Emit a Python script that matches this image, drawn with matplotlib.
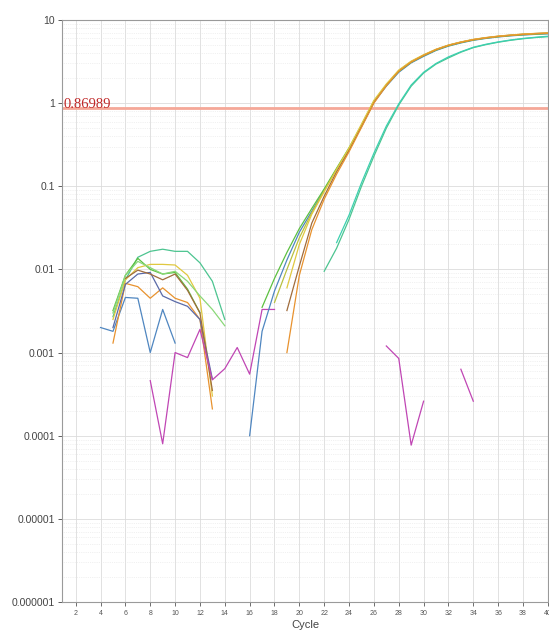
import matplotlib

matplotlib.use("Agg")
import matplotlib.pyplot as plt
import numpy as np
from matplotlib.ticker import FixedLocator, LogLocator, NullFormatter

plt.rcParams["font.family"] = ["Liberation Sans", "DejaVu Sans"]

# ---- data ----
threshold = 0.86989

# amplification curves: first cycle, then one value per cycle up to 40
amp_blue_start = 16
amp_blue = [1.0e-4, 0.0018, 0.0055, 0.013, 0.028, 0.050, 0.090, 0.16, 0.28, 0.52,
            1.02, 1.60, 2.35, 3.05, 3.65, 4.30, 4.85, 5.30, 5.70, 6.00,
            6.25, 6.45, 6.60, 6.72, 6.82]
amp_green_start = 17
amp_green = [0.0035, 0.0078, 0.016, 0.031, 0.054, 0.093, 0.165, 0.29, 0.54, 1.05,
             1.63, 2.40, 3.10, 3.72, 4.35, 4.90, 5.35, 5.75, 6.05, 6.30,
             6.50, 6.65, 6.78, 6.88]
amp_orange_start = 19
amp_orange = [0.0010, 0.0085, 0.030, 0.070, 0.14, 0.26, 0.51, 1.00, 1.62, 2.42,
              3.12, 3.75, 4.40, 4.95, 5.40, 5.80, 6.10, 6.35, 6.55, 6.72,
              6.85, 6.95]
amp_brown_start = 19
amp_brown = [0.0032, 0.011, 0.036, 0.076, 0.15, 0.27, 0.53, 1.03, 1.65, 2.45,
             3.15, 3.78, 4.42, 4.98, 5.42, 5.82, 6.12, 6.38, 6.58, 6.75,
             6.88, 6.98]
amp_yellow_start = 19
amp_yellow = [0.0060, 0.020, 0.046, 0.086, 0.16, 0.29, 0.56, 1.08, 1.70, 2.50,
              3.20, 3.82, 4.45, 5.00, 5.45, 5.85, 6.15, 6.40, 6.60, 6.78,
              6.90, 7.00]
amp_olive_start = 18
amp_olive = [0.0040, 0.010, 0.024, 0.048, 0.088, 0.16, 0.28, 0.54, 1.05, 1.66,
             2.44, 3.14, 3.76, 4.40, 4.95, 5.40, 5.78, 6.08, 6.33, 6.53,
             6.70, 6.82, 6.92]
amp_teal_start = 22
amp_teal = [0.0095, 0.018, 0.040, 0.10, 0.23, 0.50, 0.95, 1.60, 2.30, 2.95,
            3.50, 4.10, 4.65, 5.05, 5.40, 5.70, 5.95, 6.15, 6.30]
amp_sea_start = 23
amp_sea = [0.021, 0.045, 0.11, 0.25, 0.53, 0.98, 1.65, 2.35, 3.00, 3.60,
           4.15, 4.70, 5.10, 5.45, 5.75, 6.00, 6.20, 6.38]

# early background noise segments
noise_blue = [0.0020, 0.0018, 0.0046, 0.0045, 0.0010, 0.0033, 0.0013]          # from cycle 4
noise_teal = [0.0027, 0.0075, 0.0140, 0.0165, 0.0175, 0.0165, 0.0165, 0.0120, 0.0072, 0.0025]  # 5
noise_green = [0.0032, 0.0085, 0.0136, 0.0100, 0.0088, 0.0092, 0.0058, 0.0030]  # 5
noise_yellow = [0.0025, 0.0075, 0.0105, 0.0115, 0.0115, 0.0113, 0.0085, 0.0045, 0.0003]  # 5
noise_orange = [0.0013, 0.0068, 0.0062, 0.0045, 0.0060, 0.0045, 0.0040, 0.0025, 0.00021]  # 5
noise_navy = [0.0020, 0.0066, 0.0088, 0.0092, 0.0048, 0.0041, 0.0036, 0.0025, 0.00048]  # 5
noise_brown = [0.0078, 0.0098, 0.0088, 0.0075, 0.0088, 0.0056, 0.0030, 0.00035]  # 6
noise_light = [0.0030, 0.0085, 0.0125, 0.0105, 0.0088, 0.0095, 0.0072, 0.0048, 0.0033, 0.0021]  # 5

# negative control (magenta), three visible pieces
ntc_a = [4.6e-4, 8.0e-5, 1.0e-3, 8.7e-4, 1.9e-3, 4.7e-4, 6.4e-4, 1.15e-3, 5.5e-4, 3.3e-3, 3.3e-3]  # 8
ntc_b = [1.2e-3, 8.5e-4, 7.7e-5, 2.6e-4]  # 27
ntc_c = [6.3e-4, 2.6e-4]  # 33

x_ticks = list(range(2, 41, 2))
y_ticks = [1e-6, 1e-5, 1e-4, 1e-3, 1e-2, 1e-1, 1, 10]
y_labels = ["0.000001", "0.00001", "0.0001", "0.001", "0.01", "0.1", "1", "10"]

segments = [
    (4, noise_blue, "#4f86c0"),
    (5, noise_teal, "#4cc490"),
    (5, noise_green, "#5cc040"),
    (5, noise_yellow, "#e0c840"),
    (5, noise_orange, "#e8922e"),
    (5, noise_navy, "#5a6aa8"),
    (6, noise_brown, "#a06c3c"),
    (5, noise_light, "#8ad878"),
    (8, ntc_a, "#c046b4"),
    (27, ntc_b, "#c046b4"),
    (33, ntc_c, "#c046b4"),
    (amp_blue_start, amp_blue, "#4f86c0"),
    (amp_green_start, amp_green, "#5cc040"),
    (amp_olive_start, amp_olive, "#b8c040"),
    (amp_brown_start, amp_brown, "#a06c3c"),
    (amp_yellow_start, amp_yellow, "#e0c840"),
    (amp_orange_start, amp_orange, "#e8922e"),
    (amp_teal_start, amp_teal, "#4cc490"),
    (amp_sea_start, amp_sea, "#3cd0b0"),
]

fig = plt.figure(figsize=(5.49, 6.35), dpi=100)
ax = fig.add_axes([0.113, 0.052, 0.886, 0.9165])

for start, vals, col in segments:
    xs = np.arange(start, start + len(vals))
    ax.plot(xs, vals, color=col, linewidth=0.9, zorder=3)

ax.axhline(threshold, color="#f5a898", linewidth=2.0, zorder=2)
ax.text(1.05, threshold, f"{threshold:.5f}", color="#c02828", fontsize=10.5,
        family=["Liberation Serif", "DejaVu Serif"], va="baseline", ha="left", zorder=4)

ax.set_yscale("log")
ax.set_xlim(0.9, 40.05)
ax.set_ylim(1e-6, 10)

ax.xaxis.set_major_locator(FixedLocator(x_ticks))
ax.set_xticklabels([str(t) for t in x_ticks])
ax.yaxis.set_major_locator(FixedLocator(y_ticks))
ax.set_yticklabels(y_labels)
ax.yaxis.set_minor_locator(LogLocator(base=10, subs=np.arange(2, 10)))
ax.yaxis.set_minor_formatter(NullFormatter())

ax.tick_params(axis="x", labelsize=5, colors="#555555", length=3, width=0.6, pad=3)
ax.tick_params(axis="y", labelsize=7.5, colors="#444444", length=3, width=0.6, pad=2)
ax.tick_params(axis="y", which="minor", length=0)

ax.grid(which="major", color="#dcdcdc", linewidth=0.6, zorder=0)
ax.grid(which="minor", axis="y", color="#e4e4e4", linewidth=0.5, linestyle=":", zorder=0)
ax.set_axisbelow(True)

for side in ax.spines:
    ax.spines[side].set_color("#9a9a9a")
    ax.spines[side].set_linewidth(0.8)

ax.set_xlabel("Cycle", fontsize=8, color="#444444", labelpad=2)

plt.savefig("out.png", dpi=100)
